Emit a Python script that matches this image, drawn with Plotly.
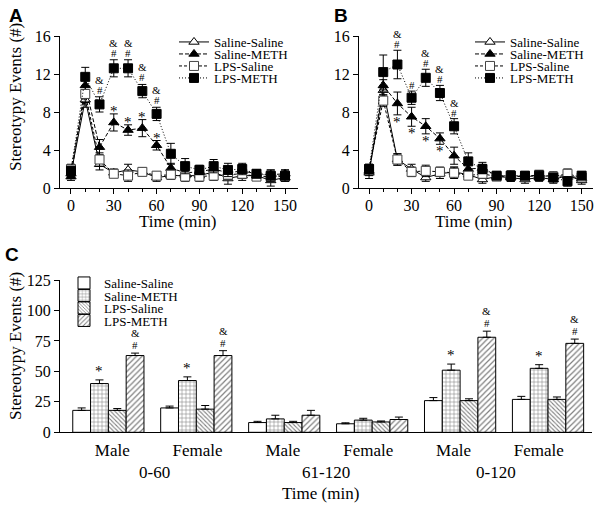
import plotly.graph_objects as go

# ---------------- data ----------------
time_min = [0, 10, 20, 30, 40, 50, 60, 70, 80, 90, 100, 110, 120, 130, 140, 150]
groups = ["Saline-Saline", "Saline-METH", "LPS-Saline", "LPS-METH"]

# Panel A
a_ss = [1.5, 9.3, 2.5, 1.6, 1.9, 1.7, 1.1, 1.3, 1.3, 1.3, 1.7, 1.0, 1.3, 1.3, 0.8, 1.1]
a_sm = [1.2, 10.8, 4.3, 6.9, 6.1, 6.3, 4.5, 2.1, 1.6, 1.7, 2.0, 1.6, 1.8, 1.5, 1.4, 1.5]
a_ls = [2.0, 9.9, 3.0, 1.5, 1.3, 1.7, 1.3, 1.4, 1.2, 1.2, 1.3, 1.4, 1.5, 1.2, 1.2, 1.2]
a_lm = [1.8, 11.7, 8.8, 12.6, 12.6, 10.2, 7.8, 3.6, 2.3, 1.9, 2.3, 1.9, 2.0, 1.5, 1.3, 1.3]
a_ss_err = [0.5, 0.8, 0.6, 0.4, 0.6, 0.4, 0.4, 0.4, 0.5, 0.5, 0.5, 0.6, 0.5, 0.4, 0.6, 0.4]
a_sm_err = [0.4, 0.8, 0.8, 0.9, 0.55, 0.9, 0.5, 0.5, 0.5, 0.4, 0.6, 0.5, 0.5, 0.4, 0.5, 0.4]
a_ls_err = [0.5, 0.9, 0.7, 0.4, 0.6, 0.4, 0.4, 0.4, 0.5, 0.5, 0.5, 0.5, 0.5, 0.4, 0.4, 0.4]
a_lm_err = [0.5, 1.0, 0.8, 0.9, 0.9, 0.7, 0.7, 1.1, 0.8, 0.5, 0.7, 0.7, 0.6, 0.4, 0.6, 0.6]
a_lm_sig = ["", "", "&#", "&#", "&#", "&#", "&#", "", "", "", "", "", "", "", "", ""]
a_sm_sig = ["", "", "", "*", "*", "*", "*", "", "", "", "", "", "", "", "", ""]

# Panel B
b_ss = [1.6, 10.3, 3.0, 2.0, 1.1, 1.5, 1.7, 1.4, 0.9, 1.2, 1.1, 0.9, 1.1, 0.9, 1.3, 0.8]
b_sm = [1.8, 10.8, 8.9, 7.5, 6.5, 5.2, 3.4, 2.0, 2.1, 1.3, 1.2, 1.2, 1.3, 1.2, 1.3, 1.0]
b_ls = [2.0, 9.2, 3.0, 1.7, 1.8, 1.7, 1.6, 1.3, 1.5, 1.2, 1.3, 1.2, 1.4, 1.2, 1.5, 1.1]
b_lm = [2.0, 12.2, 13.0, 9.5, 11.6, 10.0, 6.5, 2.8, 2.0, 1.3, 1.3, 1.3, 1.3, 1.1, 0.7, 1.3]
b_ss_err = [0.6, 0.5, 0.6, 0.5, 0.4, 0.5, 0.5, 0.4, 0.4, 0.4, 0.4, 0.4, 0.4, 0.4, 0.5, 0.4]
b_sm_err = [0.5, 0.6, 1.2, 1.0, 0.8, 0.6, 0.9, 0.5, 0.6, 0.4, 0.5, 0.4, 0.5, 0.5, 0.6, 0.4]
b_ls_err = [0.5, 0.6, 0.6, 0.5, 0.6, 0.5, 0.6, 0.4, 0.5, 0.4, 0.4, 0.4, 0.4, 0.4, 0.5, 0.4]
b_lm_err = [0.5, 1.8, 1.5, 0.7, 0.9, 0.8, 0.8, 0.9, 0.5, 0.4, 0.5, 0.4, 0.5, 0.4, 0.5, 0.4]
b_lm_sig = ["", "", "&#", "#", "&#", "&#", "&#", "", "", "", "", "", "", "", "", ""]
b_sm_sig = ["", "", "*", "*", "*", "*", "", "", "", "", "", "", "", "", "", ""]

# Panel C
c_sex = ["Male", "Female", "Male", "Female", "Male", "Female"]
c_period = ["0-60", "61-120", "0-120"]
c_ss = [18, 20, 8, 7, 26, 27]
c_sm = [40, 42.5, 11, 10, 51, 52.5]
c_ls = [18, 19, 8, 8.5, 26, 27]
c_lm = [63, 63, 14, 10.5, 78, 73]
c_ss_err = [2, 1.5, 1, 0.8, 2.5, 2.5]
c_sm_err = [3, 3, 3, 1.5, 5, 3]
c_ls_err = [1.5, 3, 1, 0.8, 1.5, 2]
c_lm_err = [2, 4, 4, 2, 5, 3.5]
c_sm_sig = ["*", "*", "", "", "*", "*"]
c_lm_sig = ["&#", "&#", "", "", "&#", "&#"]

# ---------------- styling ----------------
W, H = 601, 509
SERIF = "Liberation Serif, Times New Roman, serif"
SANS = "Liberation Sans, Arial, sans-serif"


def xp(px):
    return px / W


def yp(py):
    return 1 - py / H


line_styles = [
    dict(dash="solid", symbol="triangle-up", fill="white", edge="black"),
    dict(dash="4px,2px", symbol="triangle-up", fill="black", edge="black"),
    dict(dash="3px,2px", symbol="square", fill="white", edge="#444444"),
    dict(dash="1px,2px", symbol="square", fill="black", edge="black"),
]

fig = go.Figure()

panels = [
    ("x", "y", [a_ss, a_sm, a_ls, a_lm], [a_ss_err, a_sm_err, a_ls_err, a_lm_err], 1, 182),
    ("x2", "y2", [b_ss, b_sm, b_ls, b_lm], [b_ss_err, b_sm_err, b_ls_err, b_lm_err], 5, 478),
]
legend_rows = [42, 54, 66, 78]
legend_layouts = {}

for xa, ya, series, errs, lid0, lx in panels:
    for i, (name, vals, err, st) in enumerate(zip(groups, series, errs, line_styles)):
        lid = "legend" if lid0 + i == 1 else f"legend{lid0 + i}"
        fig.add_trace(go.Scatter(
            x=time_min, y=vals, name=name, xaxis=xa, yaxis=ya, mode="lines+markers",
            line=dict(color="black", width=1, dash=st["dash"]),
            marker=dict(symbol=st["symbol"], size=9, color=st["fill"],
                        line=dict(color=st["edge"], width=1)),
            error_y=dict(type="data", array=err, visible=True, color="black",
                         thickness=1, width=4),
            legend=lid, showlegend=True,
        ))
        legend_layouts[lid] = dict(
            x=xp(lx - 8), y=yp(legend_rows[i]), xanchor="left", yanchor="middle",
            bgcolor="rgba(0,0,0,0)", borderwidth=0, itemwidth=30,
            font=dict(family=SERIF, size=13, color="black"), tracegroupgap=0,
        )

# bars
bar_series = [c_ss, c_sm, c_ls, c_lm]
bar_errs = [c_ss_err, c_sm_err, c_ls_err, c_lm_err]
bar_patterns = [
    dict(shape=""),
    dict(shape="+", size=4, solidity=0.25, fgcolor="black", bgcolor="white"),
    dict(shape="\\", size=3, solidity=0.35, fgcolor="black", bgcolor="white"),
    dict(shape="/", size=4, solidity=0.3, fgcolor="black", bgcolor="white"),
]
c_x = list(range(len(c_sex)))
c_rows = [283, 295.5, 308, 320.5]
for i, (name, vals, err, pat) in enumerate(zip(groups, bar_series, bar_errs, bar_patterns)):
    lid = f"legend{9 + i}"
    fig.add_trace(go.Bar(
        x=c_x, y=vals, name=name, xaxis="x3", yaxis="y3",
        marker=dict(color="white", line=dict(color="black", width=1), pattern=pat),
        error_y=dict(type="data", symmetric=False, array=err, arrayminus=[0] * len(err),
                     visible=True, color="black", thickness=1, width=4),
        legend=lid,
    ))
    legend_layouts[lid] = dict(
        x=xp(64), y=yp(c_rows[i]), xanchor="left", yanchor="middle",
        bgcolor="rgba(0,0,0,0)", borderwidth=0, itemwidth=30,
        font=dict(family=SERIF, size=13, color="black"), tracegroupgap=0,
    )

annotations = []


def sig_marks(xref, yref, xs, vals, errs, sigs, above, amp_gap=10, hash_gap=7, star_gap=3):
    for x, v, e, s in zip(xs, vals, errs, sigs):
        if not s:
            continue
        if s == "*":
            annotations.append(dict(x=x, y=(v + e) if above else (v - e), xref=xref, yref=yref,
                                    text="*", showarrow=False, xanchor="center",
                                    yanchor="middle", yshift=star_gap,
                                    font=dict(family=SERIF, size=15, color="black")))
            continue
        annotations.append(dict(x=x, y=v + e, xref=xref, yref=yref, text="#",
                                showarrow=False, xanchor="center", yanchor="middle",
                                yshift=hash_gap,
                                font=dict(family=SERIF, size=11, color="black")))
        if "&" in s:
            annotations.append(dict(x=x, y=v + e, xref=xref, yref=yref, text="&amp;",
                                    showarrow=False, xanchor="center", yanchor="middle",
                                    yshift=hash_gap + amp_gap,
                                    font=dict(family=SERIF, size=11, color="black")))


sig_marks("x", "y", time_min, a_lm, a_lm_err, a_lm_sig, True)
sig_marks("x", "y", time_min, a_sm, a_sm_err, a_sm_sig, True, star_gap=3)
sig_marks("x2", "y2", time_min, b_lm, b_lm_err, b_lm_sig, True, hash_gap=6)
sig_marks("x2", "y2", time_min, b_sm, b_sm_err, b_sm_sig, False, star_gap=-7)

BARGAP = 0.19
bw = (1 - BARGAP) / 4
sig_marks("x3", "y3", [c - 0.5 * bw for c in c_x], c_sm, c_sm_err, c_sm_sig, True, star_gap=9)
sig_marks("x3", "y3", [c + 1.5 * bw for c in c_x], c_lm, c_lm_err, c_lm_sig, True,
          amp_gap=12, hash_gap=8)

# titles / labels
title_font = dict(family=SERIF, size=17, color="black")


def lab(x, y, text, font, angle=0, xref="paper"):
    return dict(x=x, y=y, xref=xref, yref="paper", text=text, textangle=angle,
                showarrow=False, xanchor="center", yanchor="middle", font=font)


# category label positions (slightly compressed vs. bar groups, as in the original)
c_label_pos = [0.045 + 0.97 * c for c in c_x]

annotations += [
    lab(xp(15), yp(97), "Stereotypy Events (#)", title_font, -90),
    lab(xp(15), yp(346), "Stereotypy Events (#)", title_font, -90),
    lab(xp(177), yp(221), "Time (min)", title_font),
    lab(xp(473), yp(221), "Time (min)", title_font),
    lab(xp(320), yp(493), "Time (min)", title_font),
    lab(xp(16), yp(16), "<b>A</b>", dict(family=SANS, size=19, color="black")),
    lab(xp(341), yp(16), "<b>B</b>", dict(family=SANS, size=19, color="black")),
    lab(xp(12), yp(254), "<b>C</b>", dict(family=SANS, size=19, color="black")),
]
for k, per in enumerate(c_period):
    mid = (c_label_pos[2 * k] + c_label_pos[2 * k + 1]) / 2
    annotations.append(lab(mid, yp(472), per, title_font, xref="x3"))

tick_font = dict(family=SERIF, size=16, color="black")
common_axis = dict(showline=True, linecolor="black", linewidth=1, ticks="outside",
                   ticklen=5, tickcolor="black", tickwidth=1, showgrid=False,
                   zeroline=False, tickfont=tick_font, automargin=False)
minor = dict(dtick=10, tick0=0, ticks="outside", ticklen=3, tickcolor="black", showgrid=False)

layout = dict(
    width=W, height=H, margin=dict(l=0, r=0, t=0, b=0, pad=0, autoexpand=False),
    paper_bgcolor="white", plot_bgcolor="white",
    barmode="group", bargap=BARGAP, bargroupgap=0,
    annotations=annotations,
    xaxis=dict(domain=[xp(60), xp(298)], range=[-7.7, 159.1], dtick=30, tick0=0,
               anchor="y", minor=minor, ticklabelstandoff=-2, **common_axis),
    yaxis=dict(domain=[yp(188), yp(36)], range=[0, 16], dtick=4, anchor="x", **common_axis),
    xaxis2=dict(domain=[xp(359), xp(593)], range=[-7.1, 158], dtick=30, tick0=0,
                anchor="y2", minor=minor, ticklabelstandoff=-2, **common_axis),
    yaxis2=dict(domain=[yp(188), yp(36)], range=[0, 16], dtick=4, anchor="x2", **common_axis),
    xaxis3=dict(domain=[xp(60), xp(592)], range=[-0.55, 5.5], tickvals=c_label_pos,
                ticktext=c_sex, anchor="y3", ticklabelstandoff=2,
                **{**common_axis, "ticks": "", "ticklen": 0,
                   "tickfont": dict(family=SERIF, size=17, color="black")}),
    yaxis3=dict(domain=[yp(432.3), yp(280)], range=[0, 125], dtick=25, anchor="x3",
                **common_axis),
    showlegend=True,
)
layout.update(legend_layouts)
fig.update_layout(**layout)

fig.write_html("out.html", config={"displayModeBar": False},
               post_script="document.body.style.margin='0px';")
